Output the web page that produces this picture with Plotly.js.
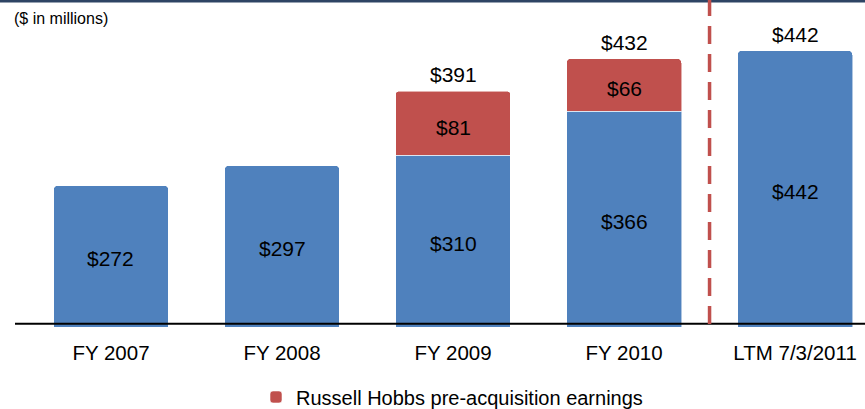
<!DOCTYPE html>
<html>
<head>
<meta charset="utf-8">
<script src="https://cdn.plot.ly/plotly-3.0.1.min.js"></script>
<style>html,body{margin:0;padding:0;background:#fff;}#chart{width:865px;height:409px;}</style>
</head>
<body>
<div id="chart"></div>
<script>
const categories = ['FY 2007', 'FY 2008', 'FY 2009', 'FY 2010', 'LTM 7/3/2011'];
const coreValues = [272, 297, 310, 366, 442];
const russellValues = [null, null, 81, 66, null];
const totalValues = [null, null, 391, 432, 442];
const russellName = 'Russell Hobbs pre-acquisition earnings';
const unitNote = '($ in millions)';

const BLUE = '#4f81bd', RED = '#c0504d';
const FONT = 'Liberation Sans, Arial, sans-serif';
const AXIS_BASE = 98;   // value where the drawn baseline sits
const Y_RANGE = [94, 480.6];

const traces = [
  {
    type: 'bar', x: categories, y: coreValues, name: 'Core',
    marker: {color: BLUE, line: {color: 'rgba(255,255,255,0.55)', width: 1}, cornerradius: 4},
    showlegend: false, hoverinfo: 'skip'
  },
  {
    type: 'bar', x: categories, y: russellValues, name: russellName,
    marker: {color: RED, line: {color: 'rgba(255,255,255,0.55)', width: 1}, cornerradius: 4},
    showlegend: true, hoverinfo: 'skip'
  }
];

const annotations = [];
categories.forEach((c, i) => {
  const b = coreValues[i];
  annotations.push({x: c, y: (AXIS_BASE + b) / 2, text: '$' + b, showarrow: false,
    xref: 'x', yref: 'y', yshift: -4, font: {family: FONT, size: 21, color: '#000'}});
  if (russellValues[i] != null) {
    const r = russellValues[i];
    annotations.push({x: c, y: b + r / 2, text: '$' + r, showarrow: false,
      xref: 'x', yref: 'y', yshift: -4, font: {family: FONT, size: 21, color: '#000'}});
  }
  if (totalValues[i] != null) {
    annotations.push({x: c, y: totalValues[i], text: '$' + totalValues[i], showarrow: false,
      xref: 'x', yref: 'y', yanchor: 'bottom', yshift: 3, font: {family: FONT, size: 21, color: '#000'}});
  }
});
annotations.push({x: 12 / 865, y: 1.0065, xref: 'paper', yref: 'paper', xanchor: 'left', yanchor: 'middle',
  text: unitNote, showarrow: false, font: {family: FONT, size: 16, color: '#000'}});

const shapes = [
  {type: 'line', xref: 'paper', yref: 'y', x0: 15 / 865, x1: 1, y0: AXIS_BASE, y1: AXIS_BASE,
    line: {color: '#000', width: 2}},
  {type: 'line', xref: 'paper', yref: 'paper', x0: 0, x1: 1, y0: 1.0619, y1: 1.0619,
    line: {color: '#2e4464', width: 3}},
  {type: 'line', xref: 'x', yref: 'paper', x0: 3.5, x1: 3.5, y0: 0.0098, y1: 1.07,
    line: {color: RED, width: 3.5, dash: '18px,10px'}}
];

const layout = {
  width: 865, height: 409,
  margin: {l: 0, r: 0, t: 20, b: 82, pad: 0, autoexpand: false},
  paper_bgcolor: '#fff', plot_bgcolor: '#fff',
  barmode: 'stack', bargap: 0.328,
  font: {family: FONT, size: 20, color: '#000'},
  xaxis: {type: 'category', range: [-0.649, 4.409], showgrid: false, zeroline: false, showline: false,
    ticks: '', ticklabelstandoff: 11, tickfont: {family: FONT, size: 20.5, color: '#000'}, automargin: false, fixedrange: true},
  yaxis: {range: Y_RANGE, visible: false, showgrid: false, zeroline: false, fixedrange: true},
  showlegend: true,
  legend: {orientation: 'h', x: 256 / 865, xanchor: 'left', yref: 'paper', y: -0.228, yanchor: 'middle',
    font: {family: FONT, size: 20, color: '#000'}, bgcolor: 'rgba(0,0,0,0)', traceorder: 'normal'},
  annotations: annotations,
  shapes: shapes
};

Plotly.newPlot('chart', traces, layout, {displayModeBar: false, staticPlot: true});
</script>
</body>
</html>
